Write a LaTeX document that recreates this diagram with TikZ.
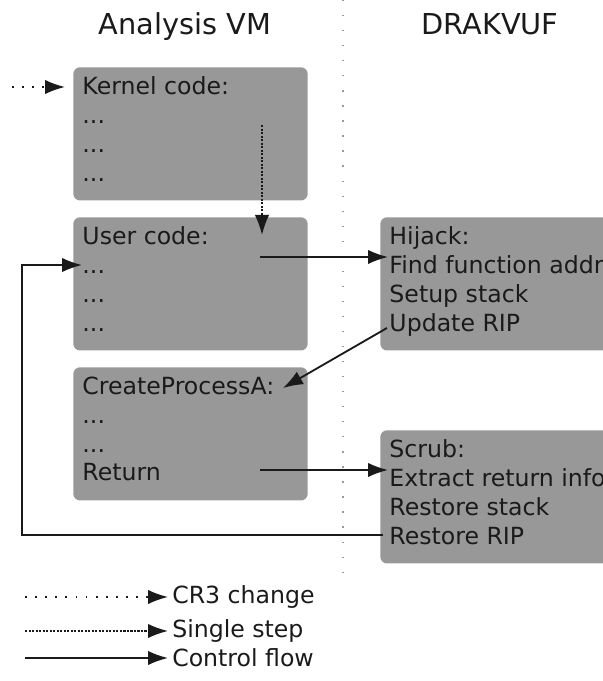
\documentclass[tikz,border=0pt]{standalone}
\usepackage{fontspec}
\setmainfont{DejaVu Sans}
\usetikzlibrary{arrows.meta,positioning,calc}
\definecolor{boxgray}{HTML}{989898}
\definecolor{ink}{HTML}{1A1A1A}
\definecolor{sepdot}{HTML}{9A9A9A}
\newcommand{\codelines}[2]{\parbox[t][2.85cm][t]{#1}{#2}}

\begin{document}
\begin{tikzpicture}[>={Latex[length=5mm,width=3.6mm]},
  font=\fontsize{16.8}{20.5}\selectfont,text=ink,
  code/.style={fill=boxgray,rounded corners=1.7mm,anchor=north west,
               inner xsep=2.3mm,inner ysep=2.4mm},
  head/.style={anchor=base,font=\fontsize{20.5}{24}\selectfont},
  cr3/.style={draw=ink,line width=1.2pt,dash pattern=on 1.2pt off 6pt},
  single/.style={draw=ink,line width=1.3pt,dash pattern=on 1.5pt off 1pt},
  flow/.style={draw=ink,line width=1.3pt}]
\useasboundingbox (0,0) rectangle (15.075,17.025);

\node[head] (vm) at (4.625,16.15) {Analysis VM};
\node[head] (dk) at (12.25,16.15) {DRAKVUF};
\draw[sepdot,line width=0.9pt,dash pattern=on 0.9pt off 9.8pt] (8.575,17.025) -- (8.575,2.65);

\node[code] (kernel) at (1.825,15.35) {\codelines{5.4cm}{Kernel code:\\...\\...\\...}};
\node[code] (user) at (1.825,11.6) {\codelines{5.4cm}{User code:\\...\\...\\...}};
\node[code] (cpa) at (1.825,7.85) {\codelines{5.4cm}{CreateProcessA:\\...\\...\\Return}};
\node[code] (hijack) at (9.5,11.6) {\codelines{6.5cm}{Hijack:\\Find function addr\\Setup stack\\Update RIP}};
\node[code] (scrub) at (9.5,6.275) {\codelines{6.5cm}{Scrub:\\Extract return info\\Restore stack\\Restore RIP}};

\coordinate (crsrc) at ([shift={(-1.525,-0.5)}]kernel.north west);
\coordinate (crdst) at ([shift={(-0.2,-0.5)}]kernel.north west);
\coordinate (ss1) at ([shift={(4.725,-1.45)}]kernel.north west);
\coordinate (ss2) at ([shift={(4.725,-0.45)}]user.north west);
\coordinate (u-out) at ([shift={(4.675,-1.0)}]user.north west);
\coordinate (u-in) at ([shift={(0.225,-1.2)}]user.north west);
\coordinate (h-in) at ([shift={(0.2,-1.0)}]hijack.north west);
\coordinate (h-out) at ([shift={(0.175,-2.775)}]hijack.north west);
\coordinate (c-in) at ([shift={(5.25,-0.525)}]cpa.north west);
\coordinate (c-out) at ([shift={(4.675,-2.575)}]cpa.north west);
\coordinate (s-in) at ([shift={(0.2,-1.0)}]scrub.north west);
\coordinate (s-out) at ([shift={(0.075,-2.625)}]scrub.north west);
\coordinate (back) at (0.55,0);

\draw[cr3,->] (crsrc) -- (crdst);
\draw[single,->] (ss1) -- (ss2);
\draw[flow,->] (u-out) -- (h-in);
\draw[flow,->] (h-out) -- (c-in);
\draw[flow,->] (c-out) -- (s-in);
\draw[flow,->] (s-out) -| (back |- u-in) -- (u-in);

\node[anchor=west,inner sep=1mm] (leg1) at (4.2,2.1) {CR3 change};
\node[anchor=west,inner sep=1mm] (leg2) at (4.2,1.25) {Single step};
\node[anchor=west,inner sep=1mm] (leg3) at (4.2,0.575) {Control flow};
\coordinate (l1) at (0.625,2.1);
\coordinate (l2) at (0.625,1.25);
\coordinate (l3) at (0.625,0.575);
\draw[cr3,->] (l1) -- (leg1);
\draw[single,->] (l2) -- (leg2);
\draw[flow,->] (l3) -- (leg3);
\end{tikzpicture}
\end{document}
